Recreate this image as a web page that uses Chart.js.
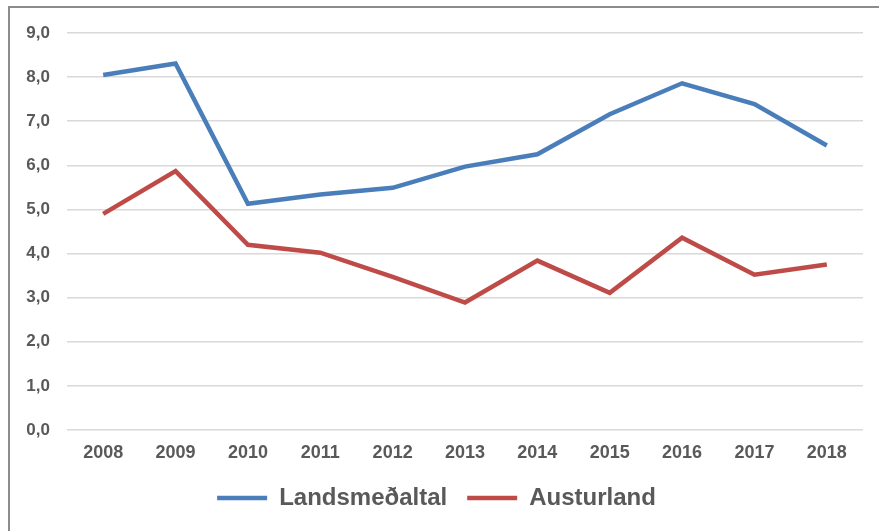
<!DOCTYPE html>
<html>
<head>
<meta charset="utf-8">
<script src="https://cdn.jsdelivr.net/npm/chart.js@4"></script>
<style>
  html, body { margin: 0; padding: 0; background: #fff; }
  .wrap { position: relative; width: 879px; height: 531px; }
  .frame {
    position: absolute; left: 8px; top: 6px; right: 0; bottom: 0;
    border-left: 2px solid #8c8c8c; border-top: 2px solid #8c8c8c;
    pointer-events: none;
  }
  canvas { position: absolute; left: 0; top: 0; }
</style>
</head>
<body>
<div class="wrap">
  <canvas id="chart" width="879" height="531"></canvas>
  <div class="frame"></div>
</div>
<script>
// Data
const years = ["2008", "2009", "2010", "2011", "2012", "2013", "2014", "2015", "2016", "2017", "2018"];
const landsmedaltal = [8.05, 8.31, 5.13, 5.34, 5.49, 5.97, 6.25, 7.16, 7.86, 7.39, 6.45];
const austurland = [4.9, 5.87, 4.2, 4.02, 3.47, 2.89, 3.84, 3.11, 4.36, 3.52, 3.75];
const yTicks = [0, 1, 2, 3, 4, 5, 6, 7, 8, 9];

const textColor = "#595959";
const fontFamily = "'Liberation Sans', Arial, sans-serif";

const ctx = document.getElementById("chart").getContext("2d");
const chart = new Chart(ctx, {
  type: "line",
  data: {
    labels: years,
    datasets: [
      {
        label: "Landsmeðaltal",
        data: landsmedaltal,
        borderColor: "#4a7ebb",
        backgroundColor: "#4a7ebb",
        borderWidth: 4.5,
        pointRadius: 0,
        tension: 0,
      },
      {
        label: "Austurland",
        data: austurland,
        borderColor: "#be4b48",
        backgroundColor: "#be4b48",
        borderWidth: 4.5,
        pointRadius: 0,
        tension: 0,
      },
    ],
  },
  options: {
    responsive: false,
    animation: false,
    layout: {
      padding: { left: 10, right: 16, top: 33, bottom: 11 },
    },
    plugins: {
      tooltip: { enabled: false },
      legend: {
        position: "bottom",
        labels: {
          usePointStyle: true,
          pointStyle: "line",
          pointStyleWidth: 50,
          boxHeight: 24,
          padding: 20,
          color: textColor,
          font: { family: fontFamily, size: 24, weight: "bold" },
        },
      },
    },
    scales: {
      x: {
        offset: true,
        grid: { display: false, drawTicks: false },
        border: { display: false },
        ticks: {
          padding: 12,
          maxRotation: 0,
          color: textColor,
          font: { family: fontFamily, size: 18, weight: "bold" },
        },
        afterFit: (scale) => { scale.height = 36; },
      },
      y: {
        min: 0,
        max: 9,
        afterBuildTicks: (scale) => {
          scale.ticks = yTicks.map((v) => ({ value: v }));
        },
        grid: { color: "#d9d9d9", lineWidth: 1.5, drawTicks: false },
        border: { display: false },
        ticks: {
          padding: 17,
          color: textColor,
          font: { family: fontFamily, size: 17, weight: "bold" },
          callback: (v) => v.toFixed(1).replace(".", ","),
        },
        afterFit: (scale) => { scale.width = 57; },
      },
    },
  },
});
</script>
</body>
</html>
